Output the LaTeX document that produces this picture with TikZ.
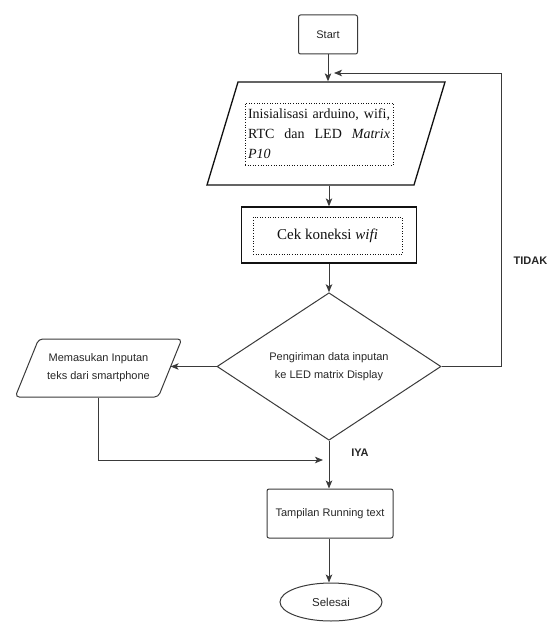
\documentclass[tikz,border=0pt]{standalone}
\usepackage{fontspec}
\setmainfont{Liberation Sans}
\newfontfamily\timesfont{Liberation Serif}
\usetikzlibrary{arrows.meta,shapes.geometric}
\definecolor{Cl}{HTML}{3a3a3a}
\definecolor{Ck}{HTML}{111111}
\definecolor{Ct}{HTML}{262626}

\tikzset{
  flow/.style={draw=Cl, line width=1pt, -{Stealth[length=8pt,width=6.5pt,inset=2pt]}},
  plainbox/.style={draw=Cl, line width=1pt, rounded corners=2pt, text=Ct,
    font=\fontsize{11}{13}\selectfont, inner sep=0pt},
  heavybox/.style={draw=Ck, line width=1.3pt},
  dotbox/.style={draw=Ck, dotted, line width=0.6pt, text=Ck},
  slanted/.style={trapezium, trapezium stretches, inner sep=2pt},
  answer/.style={font=\bfseries\fontsize{11}{13}\selectfont, text=Ct}
}

\begin{document}
\begin{tikzpicture}[x=1pt, y=-1pt]
		
		\useasboundingbox (0,0) rectangle (554,626);
		
		%% ── process nodes ──────────────────────────────────────────────────
		
		%% start
		\node[plainbox, minimum width=59pt, minimum height=39pt] (start) at (328, 34.5) {Start};
		
		%% initialisation (input / output)
		\node[slanted, heavybox, minimum width=238pt, minimum height=103pt,
		      trapezium left angle=80, trapezium right angle=100] (init) at (326, 133.5) {};
		\node[dotbox, text width=142pt, inner xsep=3pt, inner ysep=2pt, minimum height=62pt,
		      align=justify, font=\timesfont\fontsize{14}{20}\selectfont] (inittext) at (319, 134)
		{Inisialisasi arduino, wifi, RTC dan LED \textit{Matrix P10}};
		
		%% wifi check
		\node[heavybox, inner sep=0pt, minimum width=175pt, minimum height=56pt] (cek) at (329, 235) {};
		\node[dotbox, minimum width=149pt, minimum height=37pt, inner sep=0pt,
		      font=\timesfont\fontsize{15}{17}\selectfont] (cektext) at (327.5, 235.5)
		{Cek koneksi \textit{wifi}};
		
		%% decision
		\node[diamond, draw=Cl, line width=1pt, minimum width=224pt, minimum height=133pt,
		      inner sep=0pt, align=center, text=Ct, font=\fontsize{11}{18}\selectfont] (dec) at (329, 366.5)
		{Pengiriman data inputan\\ke LED matrix Display};
		
		%% smartphone input
		\node[slanted, draw=Cl, line width=1pt, rounded corners=4pt, minimum width=167pt, minimum height=58pt,
		      trapezium left angle=57, trapezium right angle=123, align=center, text=Ct,
		      font=\fontsize{11}{18}\selectfont] (input) at (98.5, 368)
		{Memasukan Inputan\\teks dari smartphone};
		
		%% running text
		\node[plainbox, minimum width=126pt, minimum height=49pt] (run) at (330, 513.5) {Tampilan Running text};
		
		%% end
		\node[ellipse, draw=Cl, line width=1pt, minimum width=102pt, minimum height=38pt, inner sep=0pt,
		      text=Ct, font=\fontsize{11.5}{13}\selectfont] (done) at (331, 602) {Selesai};
		
		%% answers
		\node[answer] (tidak) at (530.5, 261) {TIDAK};
		\node[answer] (iya)   at (360, 453)   {IYA};
		
		%% ── connectors ─────────────────────────────────────────────────────
		
		\coordinate (loopturn) at (501, 73);
		\coordinate (loopin)   at (334, 73);
		\coordinate (merge)    at (323, 460);
		
		\draw[flow] (start) -- (start |- init.north);
		\draw[flow] (init.south -| cek) -- (cek);
		\draw[flow] (cek) -- (dec);
		\draw[flow] (dec.west) -- (dec.west -| input.east);
		\draw[flow] (dec) -- (dec |- run.north);
		\draw[flow] (run.south -| dec) -- (dec |- done.north);
		\draw[flow] (input.center |- input.south) |- (merge);
		\draw[flow] (dec.east) -| (loopturn) -- (loopin);
		
	\end{tikzpicture}
\end{document}
